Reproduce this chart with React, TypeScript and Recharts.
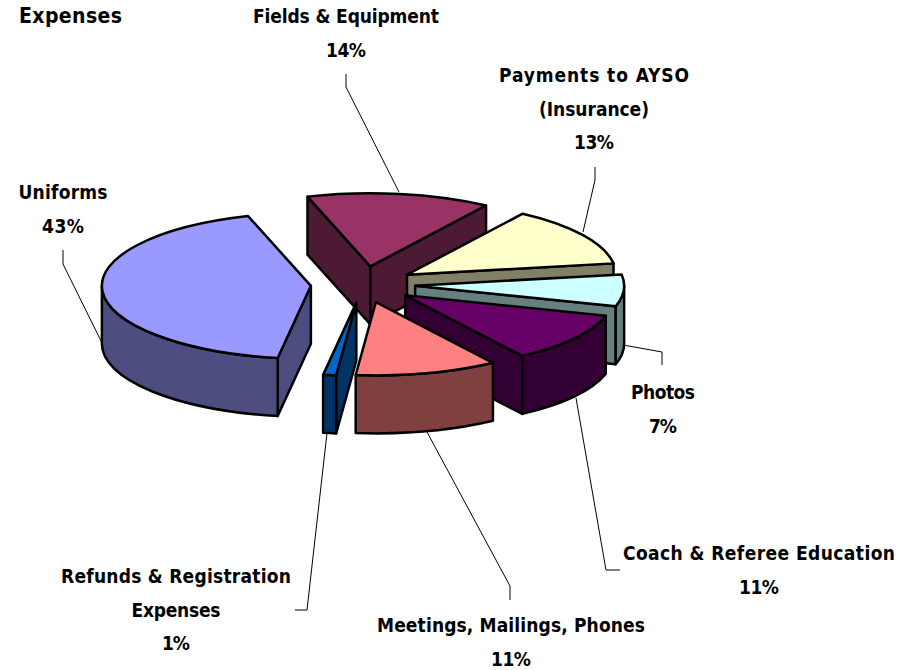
import { PieChart, Pie } from "recharts";

// slices run clockwise from the top of Fields & Equipment
const categories = [
  "Fields & Equipment",
  "Payments to AYSO (Insurance)",
  "Photos",
  "Coach & Referee Education",
  "Meetings, Mailings, Phones",
  "Refunds & Registration Expenses",
  "Uniforms",
];
const percents = [14.2, 13.2, 7, 11, 11, 1, 42.6];

const topColors = ["#993366", "#FFFFCC", "#CCFFFF", "#660066", "#FF8080", "#0066CC", "#9999FF"];
const sideColors = ["#4D1A33", "#808066", "#668080", "#330033", "#804040", "#003366", "#4D4D80"];

const labelLines = [
  ["Fields & Equipment", "14%"],
  ["Payments to AYSO", "(Insurance)", "13%"],
  ["Photos", "7%"],
  ["Coach & Referee Education", "11%"],
  ["Meetings, Mailings, Phones", "11%"],
  ["Refunds & Registration", "Expenses", "1%"],
  ["Uniforms", "43%"],
];
// drawn width of each label line
const labelWidths = [
  [186, 40],
  [190, 110, 40],
  [64, 28],
  [272, 40],
  [268, 40],
  [230, 89, 28],
  [89, 42],
];

// label centre x and the baseline of its first line
const labelAnchors = [
  [346, 23],
  [594, 82],
  [663, 399],
  [759, 560],
  [511, 632],
  [176, 583],
  [63, 199],
];
const leaders = [
  "346,74 346,87 399,192",
  "595,167 595,180 583,232",
  "662,365 662,352 623,345",
  "620,570 606,570 576,398",
  "510,600 510,586 427,432",
  "295,610 307,610 327,433",
  "63,250 63,264 103,345",
];

const data = categories.map((name, i) => ({
  name,
  value: percents[i],
  fill: topColors[i],
  side: sideColors[i],
}));

const WIDTH = 920;
const HEIGHT = 670;
const TILT = 0.35; // ellipse squash of the 3d pie
const DEPTH = 58;
const EXPLODE = 0.25;
const FONT = "'DejaVu Sans Condensed', 'DejaVu Sans', sans-serif";
const FONT_SIZE = 19;
const LINE_H = 33.5;

function Slice3D(props: any) {
  const { cx, cy, outerRadius, startAngle, endAngle, fill, payload } = props;
  const rx = outerRadius;
  const ry = outerRadius * TILT;
  const rad = (a: number) => (a * Math.PI) / 180;
  const mid = rad((startAngle + endAngle) / 2);
  const ax = cx + EXPLODE * rx * Math.cos(mid);
  const ay = cy - EXPLODE * ry * Math.sin(mid);
  const pt = (a: number, dy = 0) =>
    `${ax + rx * Math.cos(rad(a))},${ay - ry * Math.sin(rad(a)) + dy}`;
  const side = payload?.side ?? props.side;
  const large = startAngle - endAngle > 180 ? 1 : 0;

  const top = `M${ax},${ay} L${pt(startAngle)} A${rx},${ry} 0 ${large} 1 ${pt(endAngle)} Z`;
  const face = (a: number) =>
    `M${ax},${ay} L${pt(a)} L${pt(a, DEPTH)} L${ax},${ay + DEPTH} Z`;

  // outer wall only shows on the front half of the ellipse
  const wallFrom = Math.min(startAngle, 0);
  const wallTo = Math.max(endAngle, -180);
  const wall =
    wallFrom > wallTo
      ? `M${pt(wallFrom)} A${rx},${ry} 0 0 1 ${pt(wallTo)} L${pt(wallTo, DEPTH)} A${rx},${ry} 0 0 0 ${pt(wallFrom, DEPTH)} Z`
      : null;

  const stroke = { stroke: "#000", strokeWidth: 2.5, strokeLinejoin: "round" as const };
  return (
    <g>
      {Math.cos(rad(startAngle)) < 0 && <path d={face(startAngle)} fill={side} {...stroke} />}
      {Math.cos(rad(endAngle)) > 0 && <path d={face(endAngle)} fill={side} {...stroke} />}
      {wall && <path d={wall} fill={side} {...stroke} />}
      <path d={top} fill={fill} {...stroke} />
    </g>
  );
}

function SliceLabel(props: any) {
  const { index } = props;
  const [x, y] = labelAnchors[index];
  return (
    <g>
      <polyline points={leaders[index]} fill="none" stroke="#000" strokeWidth={1} />
      {labelLines[index].map((line, i) => (
        <text
          key={line}
          x={x}
          y={y + i * LINE_H}
          textAnchor="middle"
          textLength={labelWidths[index][i]}
          lengthAdjust="spacing"
          fontFamily={FONT}
          fontSize={FONT_SIZE}
          fontWeight={700}
          fill="#000"
        >
          {line}
        </text>
      ))}
    </g>
  );
}

export default function App() {
  return (
    <div style={{ position: "absolute", left: 0, top: 0, width: WIDTH, height: HEIGHT, background: "#fff" }}>
      <PieChart width={WIDTH} height={HEIGHT} margin={{ top: 0, right: 0, bottom: 0, left: 0 }}>
        <text x={19} y={23} textLength={103} lengthAdjust="spacing" fontFamily={FONT} fontSize={21} fontWeight={700} fill="#000">
          Expenses
        </text>
        <Pie
          data={data}
          dataKey="value"
          nameKey="name"
          cx={363}
          cy={284.5}
          innerRadius={0}
          outerRadius={209}
          startAngle={107.5}
          endAngle={-252.5}
          paddingAngle={0}
          shape={Slice3D}
          label={SliceLabel}
          labelLine={false}
          isAnimationActive={false}
        />
      </PieChart>
    </div>
  );
}
